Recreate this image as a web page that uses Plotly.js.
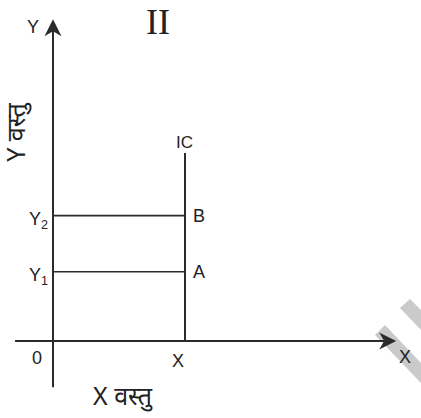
<!DOCTYPE html>
<html>
<head>
<meta charset="utf-8">
<script src="https://cdn.plot.ly/plotly-3.0.1.min.js"></script>
<style>html,body{margin:0;padding:0;background:#fff;}#chart{width:421px;height:418px;}</style>
</head>
<body>
<div id="chart"></div>
<script>
// ---- data (diagram units) ----
var quantityX = 4.0;          // fixed quantity of good X
var levelsY = [2.1, 3.8];     // Y1, Y2
var pointLabels = ['A', 'B'];
var levelLabels = ['Y<sub>1</sub>', 'Y<sub>2</sub>'];
var icTop = 5.7;              // top of vertical IC
var xAxisSpan = [-1.15, 10.4];
var yAxisSpan = [-1.4, 9.75];

var LINE = '#2b2b2b';
var TXT = '#222';
var SANS = 'Liberation Sans, Arial, sans-serif';
var DEVA = 'Noto Sans Devanagari, Lohit Devanagari, Noto Sans, Liberation Sans, sans-serif';

var traces = [
  {x: [0, 0], y: [yAxisSpan[0], yAxisSpan[1] - 0.3], mode: 'lines', line: {color: LINE, width: 2}},
  {x: [xAxisSpan[0], xAxisSpan[1] - 0.3], y: [0, 0], mode: 'lines', line: {color: LINE, width: 2}},
  {x: [quantityX, quantityX], y: [0, icTop], mode: 'lines', line: {color: LINE, width: 2}}
];
levelsY.forEach(function (v) {
  traces.push({x: [0, quantityX], y: [v, v], mode: 'lines', line: {color: LINE, width: 1.6}});
});

var ann = [
  {x: -0.6, y: 9.52, text: 'Y', font: {family: SANS, size: 18, color: TXT}},
  {x: 10.67, y: -0.48, text: 'X', font: {family: SANS, size: 18, color: TXT}},
  {x: -0.48, y: -0.52, text: '0', font: {family: SANS, size: 18, color: TXT}},
  {x: quantityX - 0.21, y: -0.6, text: 'X', font: {family: SANS, size: 18, color: TXT}},
  {x: quantityX - 0.03, y: 6.03, text: 'IC', font: {family: SANS, size: 17, color: TXT}},
  {x: 3.18, y: 9.67, text: 'II', font: {family: 'Liberation Serif, Times New Roman, serif', size: 36, color: TXT}},
  {x: 2.12, y: -1.75, text: 'X वस्तु', font: {family: DEVA, size: 25, color: TXT}},
  {x: -1.02, y: 6.35, text: 'Y वस्तु', textangle: -90, font: {family: DEVA, size: 25, color: TXT}}
];
levelsY.forEach(function (v, i) {
  ann.push({x: quantityX + 0.42, y: v, text: pointLabels[i], font: {family: SANS, size: 18, color: TXT}});
  ann.push({x: -0.08, y: v, xanchor: 'right', yshift: -5, text: levelLabels[i], font: {family: SANS, size: 18, color: TXT}});
});
ann.forEach(function (a) { a.showarrow = false; a.xref = 'x'; a.yref = 'y'; });

function P(px, py) { return (px / 421).toFixed(4) + ',' + (1 - py / 418).toFixed(4); }
var shapes = [
  {type: 'path', xref: 'paper', yref: 'paper', layer: 'below', line: {width: 0}, fillcolor: '#cacaca',
   path: 'M' + P(375, 335) + 'L' + P(385, 325) + 'L' + P(421, 363) + 'L' + P(421, 383) + 'Z'},
  {type: 'path', xref: 'paper', yref: 'paper', layer: 'below', line: {width: 0}, fillcolor: '#cacaca',
   path: 'M' + P(400, 308) + 'L' + P(410, 299) + 'L' + P(421, 310) + 'L' + P(421, 330) + 'Z'},
  // stealth arrowheads anchored at the axis tips (pixel-sized)
  {type: 'path', xref: 'x', yref: 'y', xsizemode: 'pixel', ysizemode: 'pixel',
   xanchor: xAxisSpan[1], yanchor: 0, layer: 'above', line: {width: 0}, fillcolor: LINE,
   path: 'M0,0 L-17,8.5 L-12,0 L-17,-8.5 Z'},
  {type: 'path', xref: 'x', yref: 'y', xsizemode: 'pixel', ysizemode: 'pixel',
   xanchor: 0, yanchor: yAxisSpan[1], layer: 'above', line: {width: 0}, fillcolor: LINE,
   path: 'M0,0 L8.5,-17 L0,-12 L-8.5,-17 Z'}
];

var layout = {
  width: 421, height: 418, autosize: false,
  margin: {l: 0, r: 0, t: 0, b: 0, pad: 0},
  paper_bgcolor: '#fff', plot_bgcolor: '#fff',
  showlegend: false,
  xaxis: {range: [-53 / 33, 368 / 33], visible: false, fixedrange: true},
  yaxis: {range: [-77 / 33, 341 / 33], visible: false, fixedrange: true},
  annotations: ann,
  shapes: shapes
};
Plotly.newPlot('chart', traces, layout, {displayModeBar: false, staticPlot: true});
</script>
</body>
</html>
